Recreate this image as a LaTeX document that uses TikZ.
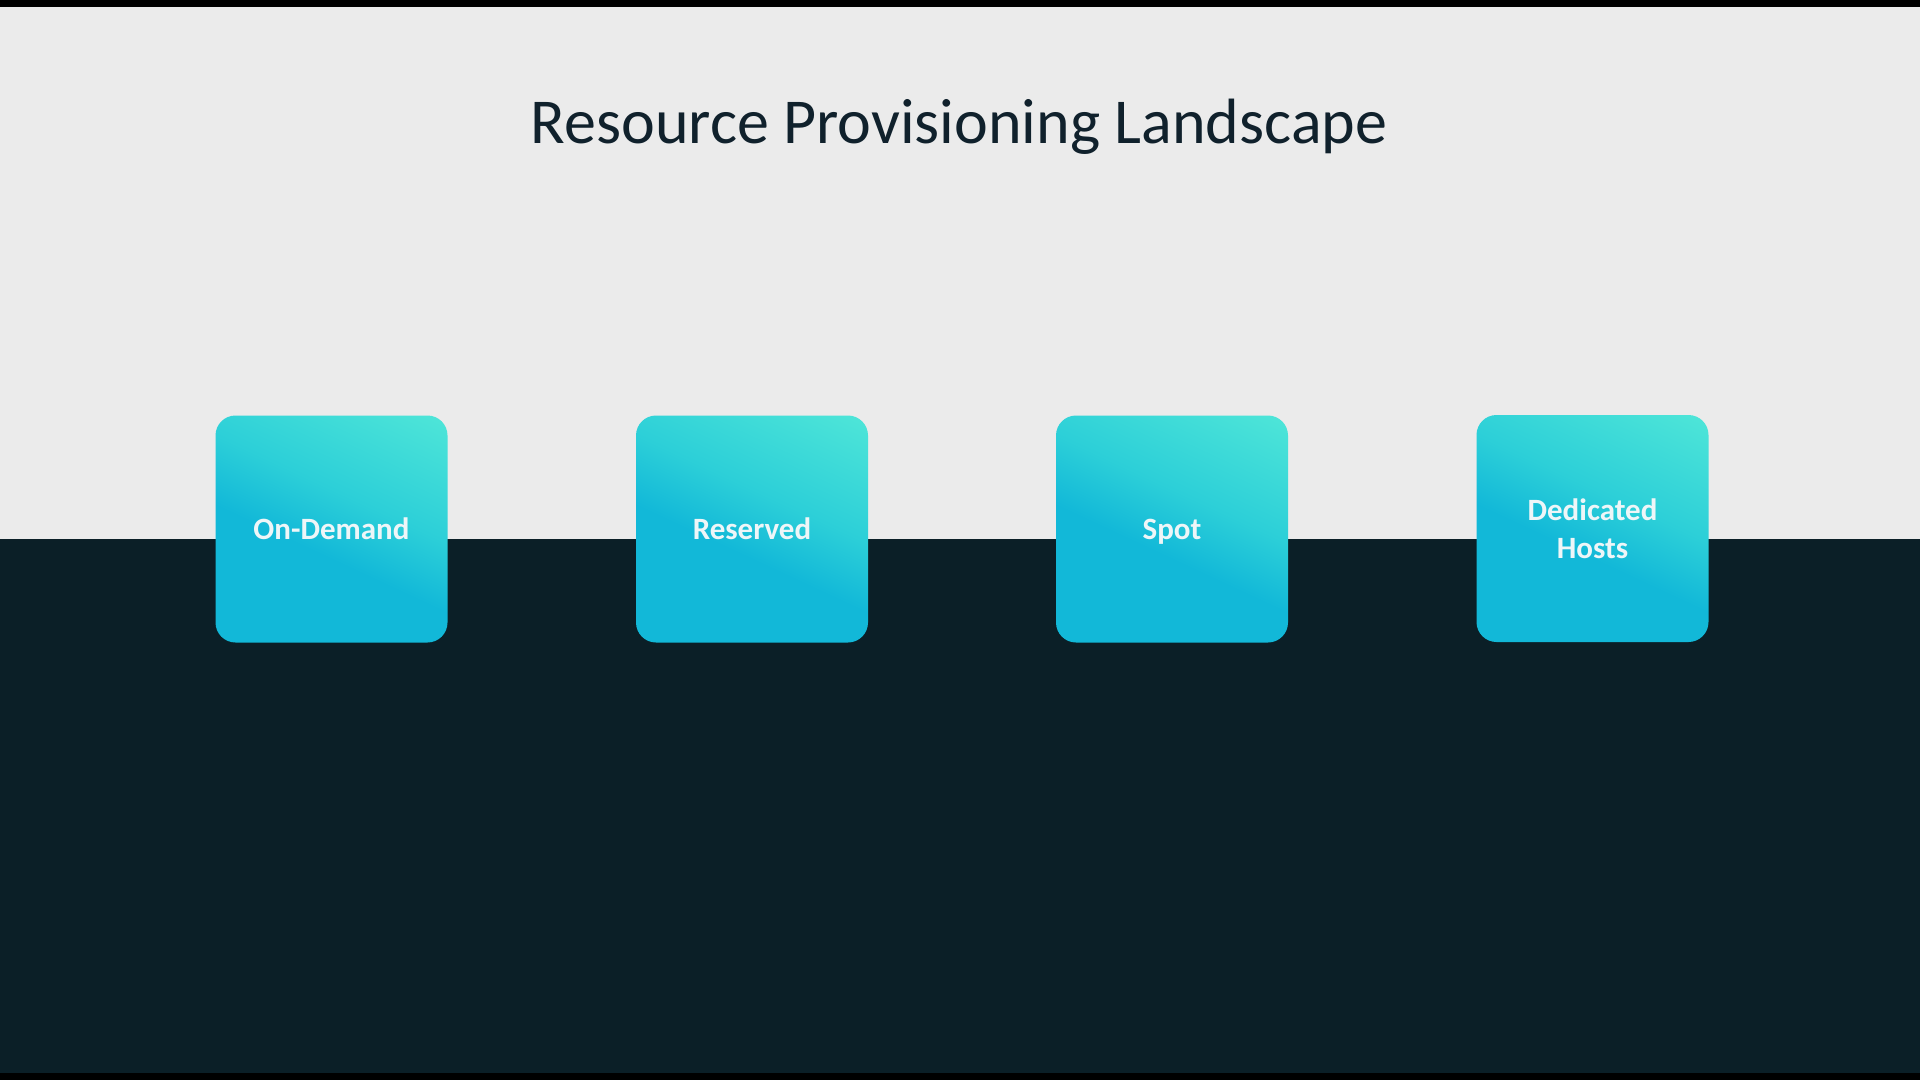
\documentclass[tikz,border=0pt]{standalone}
\usepackage{fontspec}
\setmainfont{Carlito}
\definecolor{lightbg}{HTML}{EBEBEB}
\definecolor{darkbg}{HTML}{0B1F27}
\definecolor{titlecol}{HTML}{10212C}
\definecolor{cyanB}{HTML}{12B8D8}
\definecolor{cyanM}{HTML}{2CCFD8}
\definecolor{aquaT}{HTML}{66F5D8}
\definecolor{labelcol}{HTML}{EEF6F8}
\pgfdeclareverticalshading{boxshade}{100bp}{color(0bp)=(cyanB); color(44bp)=(cyanB); color(58bp)=(cyanM); color(100bp)=(aquaT)}
\tikzset{
  optbox/.style={rounded corners=20pt, minimum width=232pt, minimum height=227pt,
    shading=boxshade, shading angle=-25, inner sep=0pt, text depth=0pt,
    text=labelcol, font=\fontsize{31}{38}\selectfont\bfseries, align=center},
  titletext/.style={text=titlecol, font=\fontsize{64}{76}\selectfont, anchor=base}
}
\begin{document}
\begin{tikzpicture}[x=1pt,y=-1pt]
\useasboundingbox (0,0) rectangle (1920,1080);
\fill[lightbg] (0,0) rectangle (1920,540);
\fill[darkbg] (0,539) rectangle (1920,1080);
\fill[black] (0,0) rectangle (1920,7);
\fill[black] (0,1073) rectangle (1920,1080);
\node[titletext] (title) at (959,143) {Resource Provisioning Landscape};
\node[optbox] (ondemand) at (331.5,529) {On-Demand};
\node[optbox] (reserved) at (752,529) {Reserved};
\node[optbox] (spot) at (1172,529) {Spot};
\node[optbox] (dedicated) at (1592.5,528.5) {Dedicated\\Hosts};
\end{tikzpicture}
\end{document}
